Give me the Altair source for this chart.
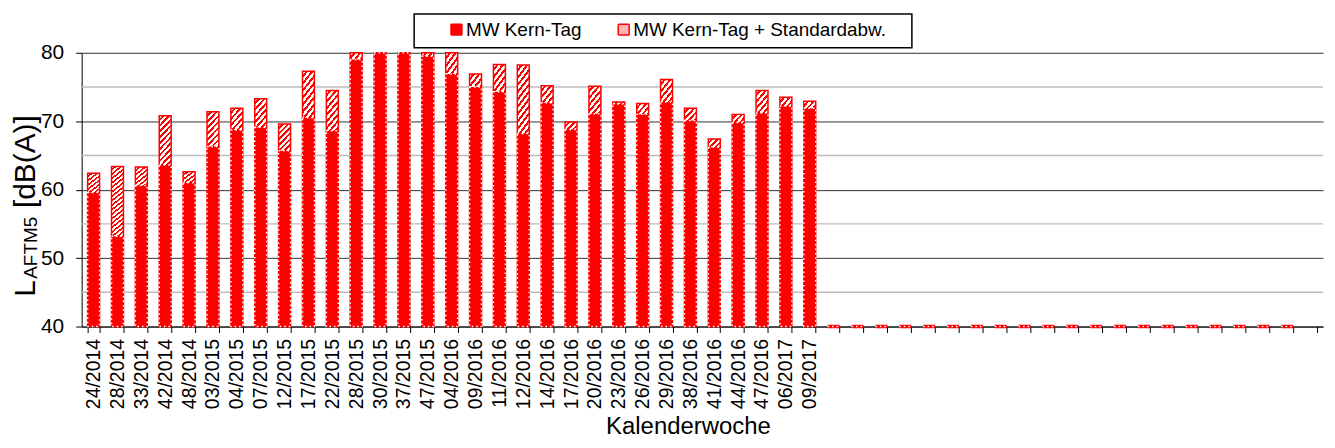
import altair as alt
import pandas as pd

FONT = "Liberation Sans"
MW_NAME = "MW Kern-Tag"
SD_NAME = "MW Kern-Tag + Standardabw."

weeks = ["24/2014", "28/2014", "33/2014", "42/2014", "48/2014",
         "03/2015", "04/2015", "07/2015", "12/2015", "17/2015", "22/2015",
         "28/2015", "30/2015", "37/2015", "47/2015",
         "04/2016", "09/2016", "11/2016", "12/2016", "14/2016", "17/2016",
         "20/2016", "23/2016", "26/2016", "29/2016", "38/2016", "41/2016",
         "44/2016", "47/2016", "06/2017", "09/2017"]
mw = [59.6, 53.2, 60.6, 63.6, 61.0, 66.3, 68.7, 69.1, 65.7, 70.5, 68.6,
      79.0, 81.0, 81.0, 79.5, 76.9, 75.0, 74.3, 68.2, 72.7, 68.8,
      71.1, 72.5, 71.0, 72.8, 70.1, 66.2, 69.8, 71.2, 72.2, 71.9]
mw_sd = [62.4, 63.4, 63.3, 70.8, 62.6, 71.4, 71.9, 73.3, 69.6, 77.3, 74.5,
         80.8, 82.5, 82.5, 80.6, 81.0, 76.9, 78.3, 78.2, 75.2, 69.9,
         75.1, 72.8, 72.6, 76.1, 71.9, 67.4, 71.0, 74.5, 73.5, 72.9]
# empty weeks at the end (unlabelled categories)
empty_labels = [" " * (k + 1) for k in range(21)]
empty_mw = [40.0] * 20 + [None]
empty_sd = [40.0] * 20 + [None]

y_ticks = [40, 50, 60, 70, 80]
minor_ticks = [45, 55, 65, 75]

all_weeks = weeks + empty_labels
rows = []
for w, a, b in zip(all_weeks, mw + empty_mw, mw_sd + empty_sd):
    rows.append({"week": w, "series": MW_NAME, "value": a})
    rows.append({"week": w, "series": SD_NAME, "value": b})
df = pd.DataFrame(rows)

# diagonal hatch as a striped gradient
stops = []
N = 36
for k in range(N):
    a = k / N
    b = (k + 0.55) / N
    c = (k + 1) / N
    stops += [{"offset": a, "color": "#FFFFFF"}, {"offset": b, "color": "#FFFFFF"},
              {"offset": b, "color": "#FF0000"}, {"offset": c, "color": "#FF0000"}]
hatch = {"gradient": "linear", "x1": 0, "y1": 0, "x2": 0.06, "y2": 1, "stops": stops}

x_enc = alt.X("week:N", sort=None,
              scale=alt.Scale(domain=all_weeks, paddingInner=0.5, paddingOuter=0.25),
              axis=alt.Axis(title="Kalenderwoche", labelAngle=270, labelFont=FONT,
                            labelFontSize=19.5, labelColor="black", labelPadding=6,
                            tickBand="extent", tickSize=6, tickColor="black",
                            domainColor="black", grid=False,
                            titleFont=FONT, titleFontSize=24, titleFontWeight="normal",
                            titleColor="black", titleX=609, titleY=107,
                            titleBaseline="alphabetic", titleAlign="center"))
y_scale = alt.Scale(domain=[40, 80], clamp=True, nice=False, zero=False)
y_axis = alt.Axis(title="", values=y_ticks, labelFont=FONT, labelFontSize=21,
                  labelColor="black", labelPadding=12, tickSize=6,
                  tickColor="black", domainColor="black", grid=True,
                  gridColor="#333333", gridWidth=1)
y_enc = alt.Y("value:Q", scale=y_scale, axis=y_axis)

base = alt.Chart(df).encode(x=x_enc, y=y_enc)

minor = alt.Chart(pd.DataFrame({"value": minor_ticks})).mark_rule(
    color="#BDBDBD", strokeWidth=1.5).encode(y=y_enc)

sd_bars = base.transform_filter(alt.datum.series == SD_NAME).mark_bar(
    fill=hatch, stroke="#FF0000").encode(
    strokeWidth=alt.condition(alt.datum.value <= 40, alt.value(3.5), alt.value(1.5)))

mw_bars = base.transform_filter(alt.datum.series == MW_NAME).mark_bar(
    stroke="#FFFFFF", strokeWidth=1.5, strokeDash=[1.5, 3]).encode(
    color=alt.Color("series:N",
                    scale=alt.Scale(domain=[MW_NAME, SD_NAME], range=["#FF0000", "#FFB3B3"]),
                    legend=alt.Legend(title="", orient="none", legendX=367, legendY=-33,
                                      direction="horizontal", labelFont=FONT,
                                      labelFontSize=19, labelColor="black", labelLimit=500,
                                      symbolType="square", symbolSize=121,
                                      symbolStrokeColor="#FF0000", symbolStrokeWidth=1.5,
                                      symbolDash=[1, 0], labelOffset=0, columnPadding=32,
                                      padding=0)))

dummy = pd.DataFrame({"d": [0]})
t1 = alt.Chart(dummy).mark_text(text="L", angle=270, align="left", baseline="alphabetic",
                                font=FONT, fontSize=30, color="black").encode(
    x=alt.value(-47), y=alt.value(245))
t2 = alt.Chart(dummy).mark_text(text="AFTM5", angle=270, align="left", baseline="alphabetic",
                                font=FONT, fontSize=19, color="black").encode(
    x=alt.value(-45), y=alt.value(227))
t3 = alt.Chart(dummy).mark_text(text="[dB(A)]", angle=270, align="left", baseline="alphabetic",
                                font=FONT, fontSize=30, color="black").encode(
    x=alt.value(-47), y=alt.value(156))
box = alt.Chart(dummy).mark_rect(fillOpacity=0, stroke="black", strokeWidth=1.5).encode(
    x=alt.value(334), x2=alt.value(834), y=alt.value(-39), y2=alt.value(-5))

chart = alt.layer(minor, sd_bars, mw_bars, t1, t2, t3, box).properties(
    width=1247, height=275,
    autosize=alt.AutoSizeParams(type="none"),
    padding={"left": 74, "top": 44, "right": 4, "bottom": 113},
).configure_view(strokeWidth=0)

chart.save("out.html", embed_options={"renderer": "svg", "actions": False})
